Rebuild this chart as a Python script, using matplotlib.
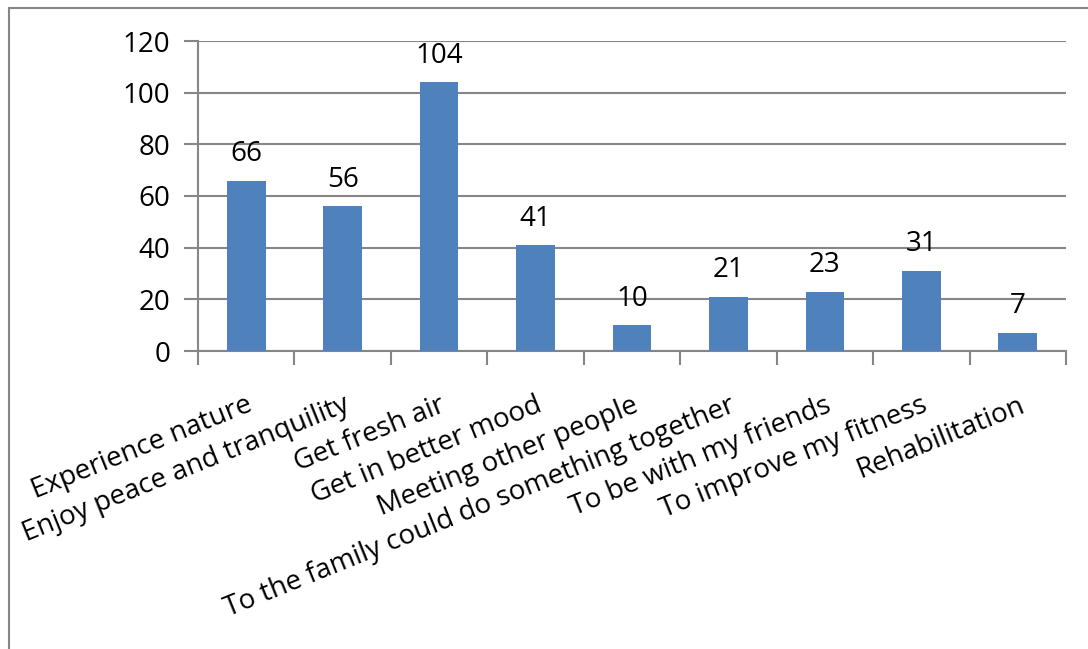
import matplotlib.pyplot as plt
from matplotlib.patches import Rectangle

# data
categorias = ['Experience nature', 'Enjoy peace and tranquility', 'Get fresh air',
              'Get in better mood', 'Meeting other people',
              'To the family could do something together', 'To be with my friends',
              'To improve my fitness', 'Rehabilitation']
valores = [66, 56, 104, 41, 10, 21, 23, 31, 7]
yticks = [0, 20, 40, 60, 80, 100, 120]

plt.rcParams['font.family'] = ['Open Sans', 'DejaVu Sans']
cinza = '#868686'
fs = 20

fig = plt.figure(figsize=(10.88, 6.49), dpi=100)
# moldura do grafico
fig.patches.append(Rectangle((9/1088, -0.1), 1.2, 1.1 - 8/649, transform=fig.transFigure,
                             fill=False, edgecolor=cinza, linewidth=1.5))

ax = fig.add_axes([198/1088, 1 - 351/649, 868/1088, 310/649])
x = list(range(len(categorias)))
ax.bar(x, valores, width=0.4, color='#4F81BD', zorder=3)

for xi, v in zip(x, valores):
    ax.annotate(str(v), (xi, v), xytext=(0, 9), textcoords='offset points',
                ha='center', va='bottom', fontsize=fs)

ax.set_xlim(-0.5, len(categorias) - 0.5)
ax.set_ylim(0, 120)
ax.set_yticks(yticks)
ax.grid(axis='y', color=cinza, linewidth=1.5, zorder=0)
ax.tick_params(axis='y', labelsize=fs, length=10, color=cinza, width=1.5, pad=10)

ax.set_xticks(x)
ax.set_xticklabels(categorias, rotation=22, ha='right', rotation_mode='anchor', fontsize=fs)
ax.set_xticks([i - 0.5 for i in range(len(categorias) + 1)], minor=True)
ax.tick_params(axis='x', which='major', length=0, pad=29)
ax.tick_params(axis='x', which='minor', length=10, color=cinza, width=1.5)

for s in ['top', 'right']:
    ax.spines[s].set_visible(False)
for s in ['left', 'bottom']:
    ax.spines[s].set_color(cinza)
    ax.spines[s].set_linewidth(1.5)

fig.savefig('out.png', dpi=100)
